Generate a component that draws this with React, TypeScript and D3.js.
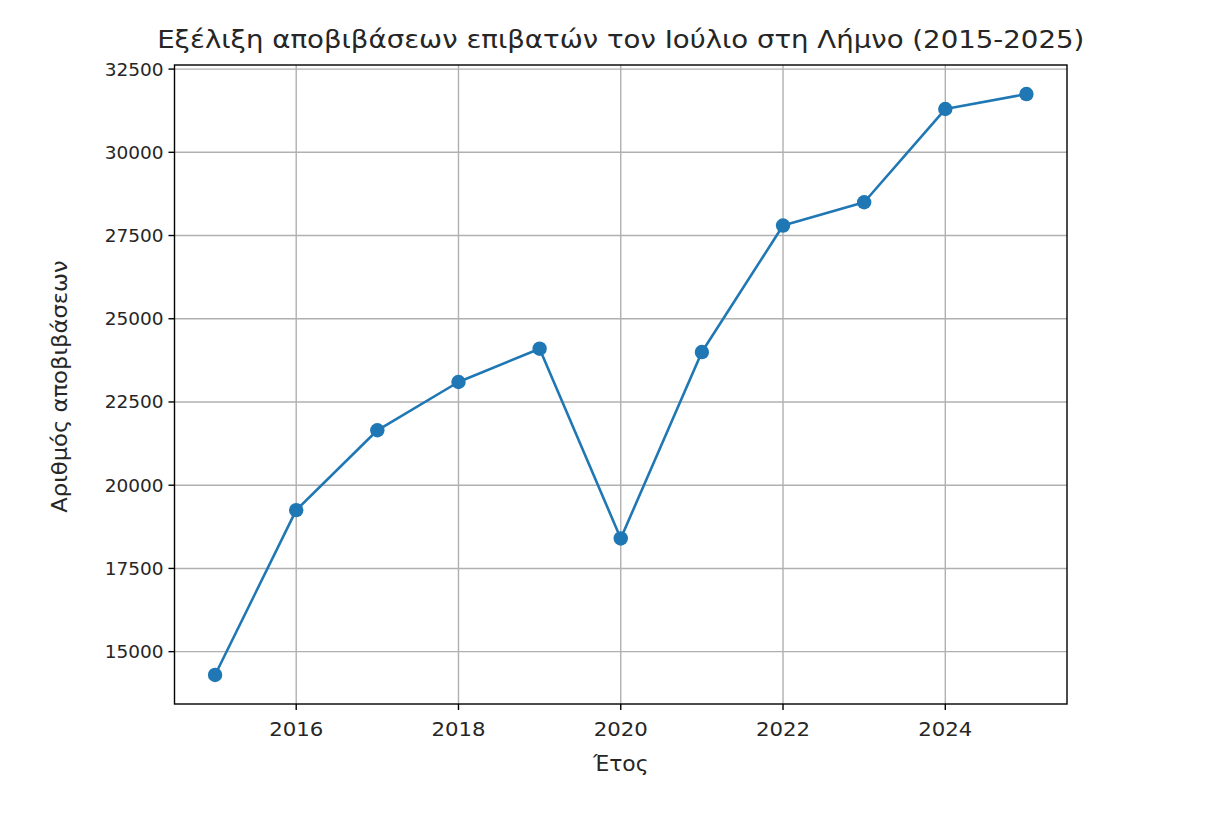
import React from "react";
import * as d3 from "d3";

const years = [2015, 2016, 2017, 2018, 2019, 2020, 2021, 2022, 2023, 2024, 2025];
const arrivals = [14300, 19250, 21650, 23100, 24100, 18400, 24000, 27800, 28500, 31300, 31750];
const xTicks = [2016, 2018, 2020, 2022, 2024];
const yTicks = [15000, 17500, 20000, 22500, 25000, 27500, 30000, 32500];
const title = "Εξέλιξη αποβιβάσεων επιβατών τον Ιούλιο στη Λήμνο (2015-2025)";
const xLabel = "Έτος";
const yLabel = "Αριθμός αποβιβάσεων";

const W = 1219, H = 834;
const L = 174.5, R = 1067, T = 65, B = 704;
const FONT = "DejaVu Sans, sans-serif";

function sx(cx: number, k: number) {
  return `translate(${cx},0) scale(${k},1) translate(${-cx},0)`;
}

export default function App() {
  const xMin = d3.min(years)!, xMax = d3.max(years)!;
  const xPad = (xMax - xMin) * 0.05;
  const yMin = d3.min(arrivals)!, yMax = d3.max(arrivals)!;
  const yPad = (yMax - yMin) * 0.05;
  const x = d3.scaleLinear().domain([xMin - xPad, xMax + xPad]).range([L, R]);
  const y = d3.scaleLinear().domain([yMin - yPad, yMax + yPad]).range([B, T]);
  const pts = years.map((yr, i) => [x(yr), y(arrivals[i])] as [number, number]);
  const line = d3.line()(pts) || "";
  const grid = "#b0b0b0";
  const cx = (L + R) / 2;
  return (
    <svg width={W} height={H} style={{ position: "absolute", left: 0, top: 0, background: "#fff" }}>
      <rect x={0} y={0} width={W} height={H} fill="#fff" />
      {xTicks.map((t) => (
        <line key={"gx" + t} x1={x(t)} x2={x(t)} y1={T} y2={B} stroke={grid} strokeWidth={1.4} />
      ))}
      {yTicks.map((t) => (
        <line key={"gy" + t} x1={L} x2={R} y1={y(t)} y2={y(t)} stroke={grid} strokeWidth={1.4} />
      ))}
      <path d={line} fill="none" stroke="#1f77b4" strokeWidth={2.6} strokeLinejoin="round" />
      {pts.map((p, i) => (
        <circle key={i} cx={p[0]} cy={p[1]} r={7.2} fill="#1f77b4" />
      ))}
      <rect x={L} y={T} width={R - L} height={B - T} fill="none" stroke="#000" strokeWidth={1.4} />
      {xTicks.map((t) => (
        <g key={"tx" + t}>
          <line x1={x(t)} x2={x(t)} y1={B} y2={B + 6} stroke="#000" strokeWidth={1.4} />
          <text x={x(t)} y={B + 32} textAnchor="middle" fontFamily={FONT} fontSize={19} fill="#262626"
            transform={sx(x(t), 1.12)}>{t}</text>
        </g>
      ))}
      {yTicks.map((t) => (
        <g key={"ty" + t}>
          <line x1={L - 6} x2={L} y1={y(t)} y2={y(t)} stroke="#000" strokeWidth={1.4} />
          <text x={L - 11} y={y(t) + 6.5} textAnchor="end" fontFamily={FONT} fontSize={18.5} fill="#262626">{t}</text>
        </g>
      ))}
      <text x={cx} y={B + 67} textAnchor="middle" fontFamily={FONT} fontSize={21} fill="#262626"
        transform={sx(cx, 1.04)}>{xLabel}</text>
      <text transform={`translate(67,${(T + B) / 2 + 2}) rotate(-90) scale(1.08,1)`} textAnchor="middle" fontFamily={FONT} fontSize={21} fill="#262626">{yLabel}</text>
      <text x={cx} y={48} textAnchor="middle" fontFamily={FONT} fontSize={24} fill="#262626"
        transform={sx(cx, 1.15)}>{title}</text>
    </svg>
  );
}
